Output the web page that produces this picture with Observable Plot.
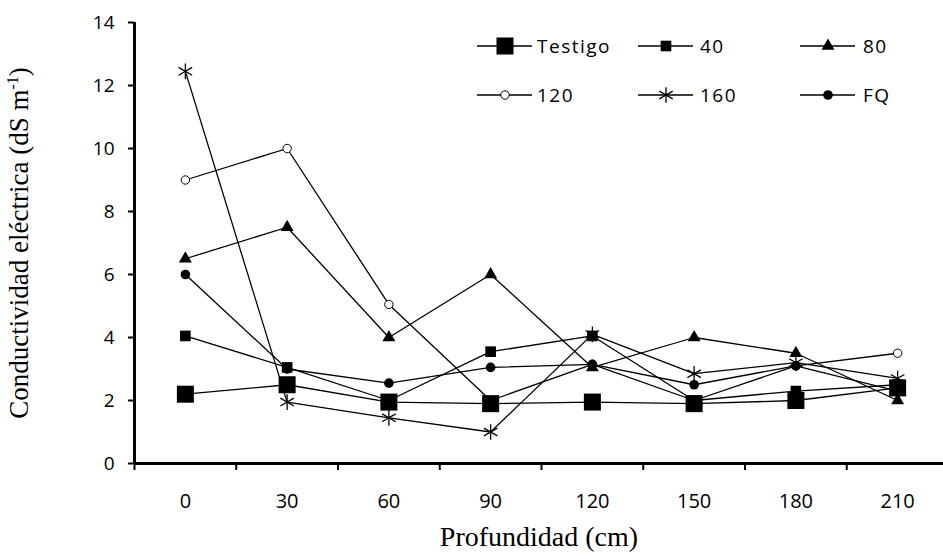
<!DOCTYPE html>
<html><head><meta charset="utf-8">
<script src="https://cdn.jsdelivr.net/npm/d3@7"></script>
<script src="https://cdn.jsdelivr.net/npm/@observablehq/plot@0.6"></script>
<style>
body{margin:0;background:#fff}
#wrap{position:relative;width:943px;height:559px;overflow:hidden}
</style>
</head><body><div id="wrap"></div>
<script>
// ---- data ----
const depths = [0, 30, 60, 90, 120, 150, 180, 210];
const testigo = [2.2, 2.5, 1.95, 1.9, 1.95, 1.9, 2.0, 2.4];
const t40 = [4.05, 3.05, 2.0, 3.55, 4.05, 2.0, 2.3, 2.5];
const t80 = [6.5, 7.5, 4.0, 6.0, 3.05, 4.0, 3.5, 2.0];
const t120 = [9.0, 10.0, 5.05, 2.0, 3.15, 2.0, 3.1, 3.5];
const t160 = [12.45, 1.95, 1.45, 1.0, 4.1, 2.85, 3.2, 2.7];
const fq = [6.0, 3.0, 2.55, 3.05, 3.15, 2.5, 3.1, 2.3];
const seriesNames = ["Testigo", "40", "80", "120", "160", "FQ"];
const yTicks = [0, 2, 4, 6, 8, 10, 12, 14];
const xTitle = "Profundidad (cm)";
const yTitle = "Conductividad eléctrica (dS m";
const ySup = "-1";

// ---- styles ----
const styles = [
  {symbol: "square", r: 9.6, fill: "black", stroke: "none"},
  {symbol: "square", r: 6.0, fill: "black", stroke: "none"},
  {symbol: "triangle", r: 4.8, fill: "black", stroke: "none"},
  {symbol: "circle", r: 4.2, fill: "white", stroke: "black"},
  {symbol: "asterisk", r: 7.4, fill: "none", stroke: "black"},
  {symbol: "circle", r: 4.8, fill: "black", stroke: "none"}
];
const allValues = [testigo, t40, t80, t120, t160, fq];
const tables = allValues.map((vals, i) => vals.map((v, j) => ({serie: seriesNames[i], depth: depths[j], value: v})));

const lineMarks = tables.map(t => Plot.line(t, {x: "depth", y: "value", stroke: "black", strokeWidth: 1.3}));
const dotMarks = tables.map((t, i) => Plot.dot(t, {
  x: "depth", y: "value", symbol: () => styles[i].symbol, r: styles[i].r,
  fill: styles[i].fill, stroke: styles[i].stroke, strokeWidth: styles[i].symbol === "asterisk" ? 1.3 : 1
}));
// draw the big Testigo squares last so they cover coincident markers
const dotOrder = [1, 2, 3, 5, 0, 4].map(i => dotMarks[i]);

const chart = Plot.plot({
  width: 943, height: 559,
  marginLeft: 134, marginRight: 0, marginTop: 22, marginBottom: 96,
  style: {fontFamily: "Open Sans", color: "black", background: "white", overflow: "visible"},
  symbol: {type: "identity"},
  x: {type: "linear", domain: [-15, 225], range: [134, 948]},
  y: {domain: [0, 14]},
  marks: [
    Plot.axisY({ticks: yTicks, tickSize: 6, tickPadding: 14, fontSize: 19, strokeWidth: 2, label: null}),
    Plot.axisX({ticks: d3.range(-15, 226, 30), tickSize: 7, strokeWidth: 2, tickFormat: () => "", label: null}),
    Plot.axisX({ticks: depths, tickSize: 0, tickPadding: 30, fontSize: 20, label: null}),
    ...lineMarks,
    ...dotOrder,
    Plot.ruleY([0], {stroke: "black", strokeWidth: 3}),
    Plot.ruleX([-15], {stroke: "black", strokeWidth: 3}),
    Plot.text([xTitle], {frameAnchor: "bottom", dy: 74, text: d => d, fontFamily: "Liberation Serif", fontSize: 28, lineAnchor: "middle"}),
    Plot.text([yTitle], {frameAnchor: "left", dx: -115, rotate: -90, text: d => d, fontFamily: "Liberation Serif", fontSize: 27, lineAnchor: "middle", textAnchor: "middle"})
  ]
});
document.getElementById("wrap").appendChild(chart);

// superscript in y title
const svg = d3.select(chart);
svg.selectAll("text").filter(function(){ return this.textContent === yTitle; }).each(function(){
  const t = d3.select(this);
  t.text(null);
  t.append("tspan").text(yTitle);
  t.append("tspan").attr("dy", -10).attr("font-size", 16).text(ySup);
  t.append("tspan").attr("dy", 10).text(")");
});

// legend (inside plot area, top right)
const legendCols = [[477, 532, 505, 537], [638, 693, 666, 700], [800, 855, 828, 863]];
const legendRows = [46, 95];
const symMap = {square: d3.symbolSquare, triangle: d3.symbolTriangle, circle: d3.symbolCircle, asterisk: d3.symbolAsterisk};
const lg = svg.append("g").attr("font-family", "Open Sans").attr("font-size", 19).attr("text-anchor", "start");
seriesNames.forEach((name, i) => {
  const c = legendCols[i % 3], y = legendRows[Math.floor(i / 3)], s = styles[i];
  lg.append("line").attr("x1", c[0]).attr("x2", c[1]).attr("y1", y).attr("y2", y).attr("stroke", "black").attr("stroke-width", 1.3);
  lg.append("path").attr("transform", `translate(${c[2]},${y})`)
    .attr("d", d3.symbol(symMap[s.symbol], Math.PI * s.r * s.r)())
    .attr("fill", s.fill).attr("stroke", s.stroke).attr("stroke-width", s.symbol === "asterisk" ? 1.3 : 1);
  lg.append("text").attr("x", c[3]).attr("y", y).attr("dy", "0.36em").attr("text-anchor", "start").attr("letter-spacing", 1.5).text(name);
});
</script>
</body></html>
